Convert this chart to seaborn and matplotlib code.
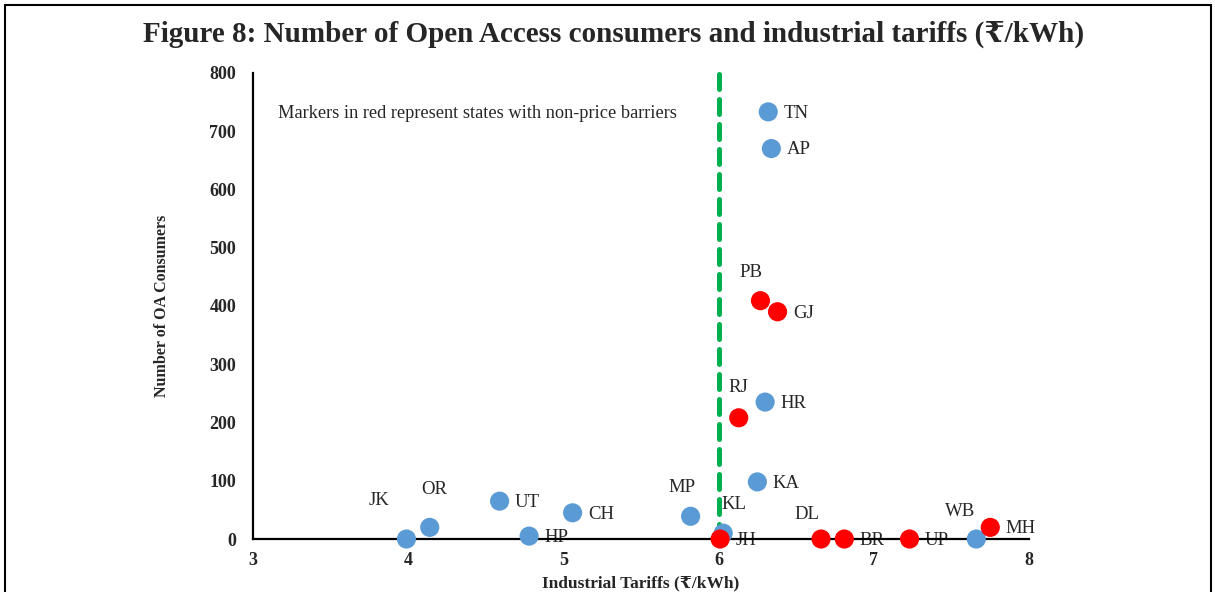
import pandas as pd
import seaborn as sns
import matplotlib.pyplot as plt
from matplotlib.patches import Rectangle

# state-wise data
states = ["JK", "OR", "UT", "HP", "CH", "MP", "KL", "JH", "KA", "HR", "RJ",
          "PB", "GJ", "TN", "AP", "DL", "BR", "UP", "WB", "MH"]
tariff = [3.99, 4.14, 4.59, 4.78, 5.06, 5.82, 6.03, 6.01, 6.25, 6.30, 6.13,
          6.27, 6.38, 6.32, 6.34, 6.66, 6.81, 7.23, 7.66, 7.75]
consumers = [0, 20, 65, 5, 45, 39, 10, 0, 98, 235, 208,
             409, 390, 733, 670, 0, 0, 0, 0, 20]
barrier = [False, False, False, False, False, False, False, True, False, False, True,
           True, True, False, False, True, True, True, False, True]

df = pd.DataFrame({"state": states, "tariff": tariff, "consumers": consumers,
                   "barrier": barrier})

sns.set_style("white")
plt.rcParams["font.family"] = ["Liberation Serif", "DejaVu Serif"]

fig = plt.figure(figsize=(12.15, 5.92), dpi=100)
ax = fig.add_axes([0.208, 0.0895, 0.639, 0.7875])

# threshold line at 6 Rs/kWh
ax.plot([6, 6], [0, 806], color="#00B050", lw=3.6, ls=(0, (3.0, 2.0)),
        dash_capstyle="round", clip_on=False, zorder=2)

sns.scatterplot(data=df, x="tariff", y="consumers", hue="barrier",
                palette={False: "#5B9BD5", True: "#FF0000"}, s=190,
                edgecolor="none", legend=False, ax=ax, zorder=5, clip_on=False)

# label placement (offset in points, alignment)
above = {"JK": (-20, 28), "OR": (3, 27), "MP": (-6, 21), "KL": (8, 21),
         "RJ": (0, 22), "PB": (-7, 20), "DL": (-10, 18), "WB": (-12, 20)}
for s, x, y in zip(states, tariff, consumers):
    if s in above:
        dx, dy = above[s]
        ax.annotate(s, (x, y), xytext=(dx, dy), textcoords="offset points",
                    ha="center", va="center", fontsize=13.5, zorder=6,
                    annotation_clip=False)
    else:
        ax.annotate(s, (x, y), xytext=(11, -1), textcoords="offset points",
                    ha="left", va="center", fontsize=13.5, zorder=1,
                    annotation_clip=False)

ax.text(3.16, 730, "Markers in red represent states with non-price barriers",
        fontsize=13.2, va="center", ha="left")

ax.set_xlim(3, 8)
ax.set_ylim(0, 800)
ax.set_xticks([3, 4, 5, 6, 7, 8])
ax.set_yticks(range(0, 801, 100))
ax.tick_params(axis="y", length=0, labelsize=13, pad=12)
ax.tick_params(axis="x", length=0, labelsize=13, pad=9)
for lab in ax.get_xticklabels() + ax.get_yticklabels():
    lab.set_fontweight("bold")

for side in ["top", "right"]:
    ax.spines[side].set_visible(False)
for side in ["left", "bottom"]:
    ax.spines[side].set_color("black")
    ax.spines[side].set_linewidth(1.6)
    ax.spines[side].set_zorder(3)

ax.set_xlabel("Industrial Tariffs (₹/kWh)", fontsize=12.5, fontweight="bold", labelpad=5)
ax.set_ylabel("Number of OA Consumers", fontsize=11.5, fontweight="bold", labelpad=28)

fig.text(0.505, 0.942, "Figure 8: Number of Open Access consumers and industrial tariffs (₹/kWh)",
         ha="center", va="center", fontsize=21, fontweight="bold")

# frame around the figure
fig.patches.append(Rectangle((0.004, -0.01), 0.993, 1.002, transform=fig.transFigure,
                             fill=False, edgecolor="black", lw=1.5))

fig.savefig("out.png", dpi=100)
